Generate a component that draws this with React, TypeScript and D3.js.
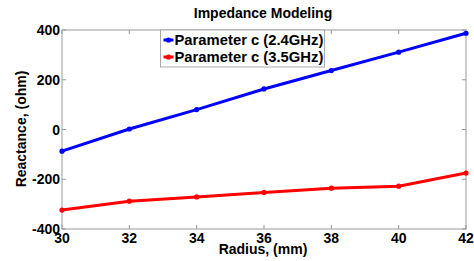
import * as d3 from "d3";
import * as React from "react";

const radius = [30, 32, 34, 36, 38, 40, 42];
const react24 = [-87, 2, 80, 163, 237, 311, 387];
const react35 = [-324, -288, -271, -253, -236, -228, -175];
const xTicks = [30, 32, 34, 36, 38, 40, 42];
const yTicks = [-400, -200, 0, 200, 400];
const seriesNames = ["Parameter c (2.4GHz)", "Parameter c (3.5GHz)"];
const seriesColors = ["#0000ff", "#ff0000"];

export default function App() {
  const width = 474, height = 261;
  const marginLeft = 62, marginRight = 8, marginTop = 30, marginBottom = 32;
  const innerWidth = width - marginLeft - marginRight;
  const innerHeight = height - marginTop - marginBottom;
  const font = "Liberation Sans, Arial, sans-serif";
  const fs = 14;

  const x = d3.scaleLinear().domain([30, 42]).range([0, innerWidth]);
  const y = d3.scaleLinear().domain([-400, 400]).range([innerHeight, 0]);
  const line = d3.line<number>().x((d, i) => x(radius[i])).y((d) => y(d));
  const series = [react24, react35];

  return (
    <svg width={width} height={height} style={{ position: "absolute", left: 0, top: 0 }}>
      <rect width={width} height={height} fill="#fff" />
      <text x={263} y={18} textAnchor="middle" fontFamily={font} fontWeight="bold" fontSize={fs}>Impedance Modeling</text>
      <g transform={"translate(" + marginLeft + "," + marginTop + ")"}>
        <rect width={innerWidth} height={innerHeight} fill="none" stroke="#999" strokeWidth={1} />
        {xTicks.map((t) => (
          <g key={"x" + t}>
            <line x1={x(t)} x2={x(t)} y1={innerHeight} y2={innerHeight - 4} stroke="#999" />
            <line x1={x(t)} x2={x(t)} y1={0} y2={4} stroke="#999" />
            <text x={x(t)} y={innerHeight + 14} textAnchor="middle" fontFamily={font} fontWeight="bold" fontSize={fs}>{t}</text>
          </g>
        ))}
        {yTicks.map((t) => (
          <g key={"y" + t}>
            <line x1={0} x2={4} y1={y(t)} y2={y(t)} stroke="#999" />
            <line x1={innerWidth} x2={innerWidth - 4} y1={y(t)} y2={y(t)} stroke="#999" />
            <text x={-2} y={y(t) + 5} textAnchor="end" fontFamily={font} fontWeight="bold" fontSize={fs}>{t}</text>
          </g>
        ))}
        {series.map((s, k) => (
          <g key={"s" + k}>
            <path d={line(s)} fill="none" stroke={seriesColors[k]} strokeWidth={3} />
            {s.map((v, i) => (
              <circle key={i} cx={x(radius[i])} cy={y(v)} r={2.6} fill={seriesColors[k]} />
            ))}
          </g>
        ))}
        <g transform="translate(98.5,0)">
          <rect x={0} y={0} width={164} height={37} fill="#fff" stroke="#aaa" />
          {seriesNames.map((n, k) => (
            <g key={n} transform={"translate(0," + (10 + k * 17) + ")"}>
              <line x1={3} x2={13} y1={0} y2={0} stroke={seriesColors[k]} strokeWidth={3} />
              <circle cx={8} cy={0} r={2.6} fill={seriesColors[k]} />
              <text x={14} y={5} fontFamily={font} fontWeight="bold" fontSize={14.8}>{n}</text>
            </g>
          ))}
        </g>
      </g>
      <text x={263} y={254} textAnchor="middle" fontFamily={font} fontWeight="bold" fontSize={fs}>Radius, (mm)</text>
      <text transform="translate(26,129) rotate(-90)" textAnchor="middle" fontFamily={font} fontWeight="bold" fontSize={fs}>Reactance, (ohm)</text>
    </svg>
  );
}
